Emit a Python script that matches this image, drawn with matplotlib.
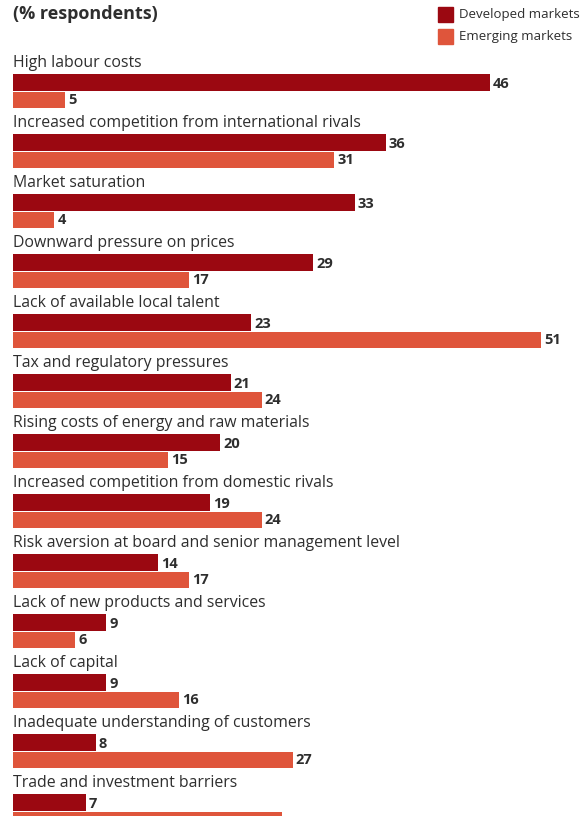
import matplotlib.pyplot as plt
from matplotlib.patches import Rectangle

# Share of respondents citing each factor
factors = [
    "High labour costs",
    "Increased competition from international rivals",
    "Market saturation",
    "Downward pressure on prices",
    "Lack of available local talent",
    "Tax and regulatory pressures",
    "Rising costs of energy and raw materials",
    "Increased competition from domestic rivals",
    "Risk aversion at board and senior management level",
    "Lack of new products and services",
    "Lack of capital",
    "Inadequate understanding of customers",
    "Trade and investment barriers",
]
developed = [46, 36, 33, 29, 23, 21, 20, 19, 14, 9, 9, 8, 7]
emerging = [5, 31, 4, 17, 51, 24, 15, 24, 17, 6, 16, 27, 26]

dev_color = "#9b0811"
emg_color = "#df553b"
text_color = "#2e2e2e"

plt.rcParams['font.family'] = ['Open Sans', 'DejaVu Sans']

W, H = 581, 816
fig = plt.figure(figsize=(W / 100, H / 100), dpi=100)
ax = fig.add_axes([0, 0, 1, 1])
px = 10.36  # pixels per percentage point
x0 = 13
ax.set_xlim(-x0 / px, (W - x0) / px)
ax.set_ylim(H, 0)
ax.axis("off")


def value_label(v, y):
    # skip labels that would fall below the bottom edge
    if y + 6 < H:
        ax.text(v + 3 / px, y + 1, str(v), fontsize=10.5, fontweight="bold",
                color=text_color, va="center", ha="left")


pitch = 60
bar_h = 17
for i, (name, d, e) in enumerate(zip(factors, developed, emerging)):
    top = 63 + pitch * i
    ax.text(0, top, name, fontsize=11.4, color=text_color, va="center", ha="left")
    yd = top + 19.5
    ye = top + 36.5
    ax.barh(yd, d, height=bar_h, left=0, color=dev_color)
    ax.barh(ye, e, height=bar_h - 1, left=0, color=emg_color)
    value_label(d, yd)
    value_label(e, ye)

# Title and legend
fig.text(13 / W, 1 - 14 / H, "(% respondents)", fontsize=13, fontweight="bold",
         color=text_color, va="center", ha="left")
for j, (lab, col) in enumerate([("Developed markets", dev_color),
                                ("Emerging markets", emg_color)]):
    yy = 7 + 22 * j
    fig.patches.append(Rectangle((438 / W, 1 - (yy + 15) / H), 15 / W, 15 / H,
                                 transform=fig.transFigure, color=col))
    fig.text(459 / W, 1 - (yy + 7.5) / H, lab, fontsize=9.5, color=text_color,
             va="center", ha="left")

fig.savefig("out.png", dpi=100)
